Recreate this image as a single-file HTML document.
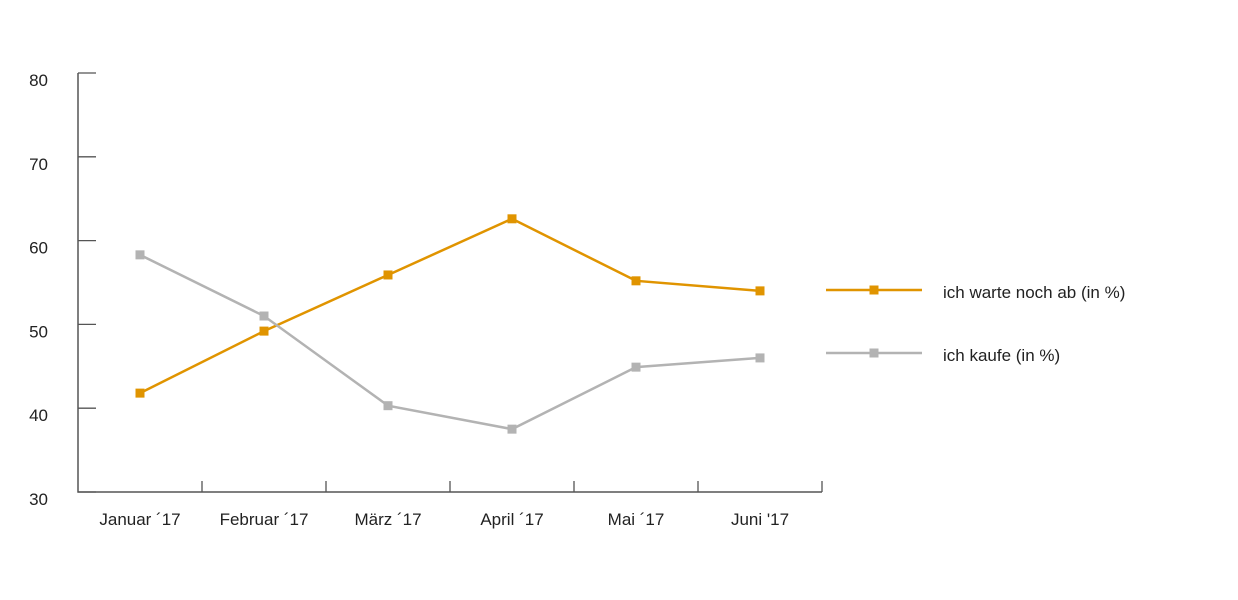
<!DOCTYPE html>
<html><head><meta charset="utf-8"><style>
body{margin:0;background:#fff;}
svg text{font-family:"Liberation Sans Narrow","Liberation Sans",sans-serif;font-size:17px;fill:#222;}
</style></head><body>
<svg width="1238" height="595" id="chart"></svg>
<script>
const categories=["Januar ´17","Februar ´17","März ´17","April ´17","Mai ´17","Juni '17"];
const waitValues=[41.8,49.2,55.9,62.6,55.2,54.0];
const buyValues=[58.3,51.0,40.3,37.5,44.9,46.0];
const yTicks=[30,40,50,60,70,80];
const seriesNames=["ich warte noch ab (in %)","ich kaufe (in %)"];
const svg=document.getElementById('chart');
const NS='http://www.w3.org/2000/svg';
const x0=78,x1=822,yb=492,yt=73;
const bw=(x1-x0)/categories.length;
const xs=i=>x0+bw*(i+0.5);
const ys=v=>yb-(v-30)/(80-30)*(yb-yt);
function mk(t,a,p){const e=document.createElementNS(NS,t);for(const k in a)e.setAttribute(k,a[k]);(p||svg).appendChild(e);return e;}
const ax=mk('g',{});


mk('path',{d:`M${x0} ${yt}V${yb}H${x1}`,stroke:'#555','stroke-width':1.5,fill:'none'},ax);
yTicks.forEach(v=>{
  mk('line',{x1:x0,x2:x0+18,y1:ys(v),y2:ys(v),stroke:'#555','stroke-width':1.3},ax);
  const t=mk('text',{x:48,y:ys(v)+13,'text-anchor':'end'},ax);t.textContent=v;
  
  
});
categories.forEach((c,i)=>{
  const tx=x0+bw*(i+1);
  mk('line',{x1:tx,x2:tx,y1:yb,y2:yb-11,stroke:'#555','stroke-width':1.3},ax);
  const t=mk('text',{x:xs(i),y:525,'text-anchor':'middle'},ax);t.textContent=c;
  
  
});
function series(vals,color,name,ly,label){
  const g=mk('g',{});
  
  
  mk('polyline',{points:vals.map((v,i)=>xs(i)+','+ys(v)).join(' '),fill:'none',stroke:color,'stroke-width':2.5},g);
  vals.forEach((v,i)=>{
    const r=mk('rect',{x:xs(i)-4.5,y:ys(v)-4.5,width:9,height:9,fill:color},g);
    
    
  });
  const lg=mk('g',{});
  
  
  mk('line',{x1:826,x2:922,y1:ly,y2:ly,stroke:color,'stroke-width':2.5},lg);
  mk('rect',{x:869.5,y:ly-4.5,width:9,height:9,fill:color},lg);
  const t=mk('text',{x:943,y:ly+8},lg);t.textContent=label;
}
series(waitValues,'#e09400','series-warte',290,seriesNames[0]);
series(buyValues,'#b3b3b3','series-kaufe',353,seriesNames[1]);
</script>
</body></html>
